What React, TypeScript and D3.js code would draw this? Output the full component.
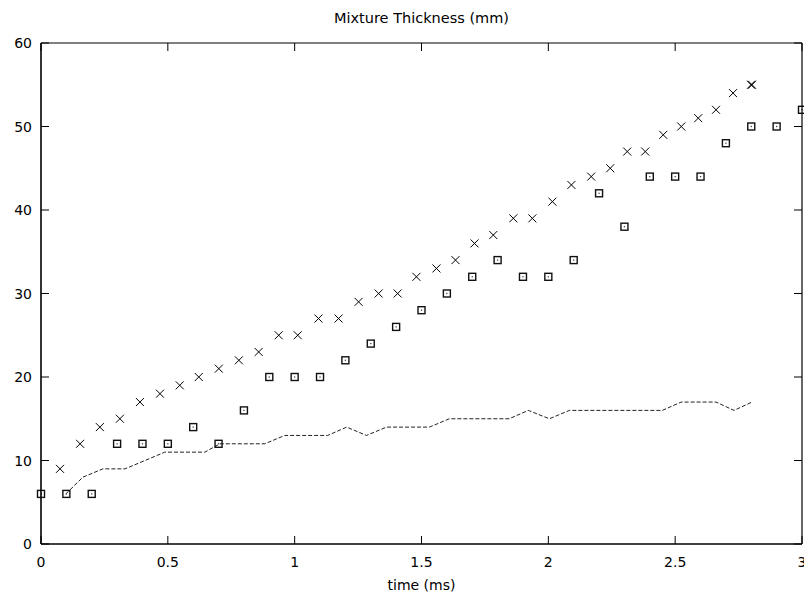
import React from "react";
import * as d3 from "d3";

// ---- data ----
const crossTimes = [0.075, 0.154, 0.232, 0.311, 0.390, 0.469, 0.547, 0.622, 0.701, 0.780, 0.858, 0.937, 1.012, 1.094, 1.173, 1.252, 1.331, 1.406, 1.480, 1.559, 1.634, 1.709, 1.783, 1.862, 1.937, 2.016, 2.091, 2.169, 2.244, 2.311, 2.382, 2.453, 2.524, 2.591, 2.661, 2.728, 2.799, 2.803];
const crossValues = [9, 12, 14, 15, 17, 18, 19, 20, 21, 22, 23, 25, 25, 27, 27, 29, 30, 30, 32, 33, 34, 36, 37, 39, 39, 41, 43, 44, 45, 47, 47, 49, 50, 51, 52, 54, 55, 55];

const squareTimes = [0, 0.1, 0.2, 0.3, 0.4, 0.5, 0.6, 0.7, 0.8, 0.9, 1.0, 1.1, 1.2, 1.3, 1.4, 1.5, 1.6, 1.7, 1.8, 1.9, 2.0, 2.1, 2.2, 2.3, 2.4, 2.5, 2.6, 2.7, 2.8, 2.9, 3.0];
const squareValues = [6, 6, 6, 12, 12, 12, 14, 12, 16, 20, 20, 20, 22, 24, 26, 28, 30, 32, 34, 32, 32, 34, 42, 38, 44, 44, 44, 48, 50, 50, 52];

const lineTimes = [0.098, 0.165, 0.244, 0.331, 0.410, 0.488, 0.646, 0.705, 0.882, 0.961, 1.130, 1.205, 1.283, 1.362, 1.531, 1.610, 1.846, 1.921, 2.004, 2.083, 2.449, 2.524, 2.661, 2.732, 2.803];
const lineValues = [6, 8, 9, 9, 10, 11, 11, 12, 12, 13, 13, 14, 13, 14, 14, 15, 15, 16, 15, 16, 16, 17, 17, 16, 17];

const xTicks = [0, 0.5, 1, 1.5, 2, 2.5, 3];
const xTickLabels = ["0", "0.5", "1", "1.5", "2", "2.5", "3"];
const yTicks = [0, 10, 20, 30, 40, 50, 60];
const yTickLabels = ["0", "10", "20", "30", "40", "50", "60"];

const title = "Mixture Thickness (mm)";
const xTitle = "time (ms)";

export default function App() {
  const W = 804, H = 597;
  const left = 41, right = 802, top = 43, bottom = 544;
  const x = d3.scaleLinear().domain([0, 3]).range([left, right]);
  const y = d3.scaleLinear().domain([0, 60]).range([bottom, top]);
  const font = "'DejaVu Sans', sans-serif";
  const tickLen = 8;

  const linePts: [number, number][] = lineTimes.map((t, i) => [t, lineValues[i]]);
  const lineGen = d3.line<[number, number]>().x(d => x(d[0])).y(d => y(d[1]));

  return (
    <svg width={W} height={H} style={{ position: "absolute", left: 0, top: 0, background: "#fff" }} xmlns="http://www.w3.org/2000/svg">
      <rect x={0} y={0} width={W} height={H} fill="#fff" />
      <text x={(left + right) / 2} y={23} textAnchor="middle" fontFamily={font} fontSize={14.5} fill="#000">{title}</text>
      {/* ticks */}
      {xTicks.map((t, i) => (
        <g key={"xt" + i}>
          <line x1={x(t)} x2={x(t)} y1={bottom} y2={bottom - tickLen} stroke="#000" strokeWidth={1} />
          <line x1={x(t)} x2={x(t)} y1={top} y2={top + tickLen} stroke="#000" strokeWidth={1} />
          <text x={x(t)} y={567} textAnchor="middle" fontFamily={font} fontSize={14} fill="#000">{xTickLabels[i]}</text>
        </g>
      ))}
      {yTicks.map((t, i) => (
        <g key={"yt" + i}>
          <line x1={left} x2={left + tickLen} y1={y(t)} y2={y(t)} stroke="#000" strokeWidth={1} />
          <line x1={right} x2={right - tickLen} y1={y(t)} y2={y(t)} stroke="#000" strokeWidth={1} />
          <text x={32} y={y(t)} dy="0.36em" textAnchor="end" fontFamily={font} fontSize={14} fill="#000">{yTickLabels[i]}</text>
        </g>
      ))}
      <text x={(left + right) / 2} y={590} textAnchor="middle" fontFamily={font} fontSize={14} fill="#000">{xTitle}</text>
      {/* dashed line */}
      <path d={lineGen(linePts) || ""} fill="none" stroke="#222" strokeWidth={1} strokeDasharray="4,2" />
      {/* squares */}
      {squareTimes.map((t, i) => {
        const cx = x(t), cy = y(squareValues[i]);
        return (
          <g key={"sq" + i}>
            <rect x={cx - 3.5} y={cy - 3.5} width={7} height={7} fill="none" stroke="#111" strokeWidth={1.4} />
            <rect x={cx - 0.6} y={cy - 0.6} width={1.2} height={1.2} fill="#333" />
          </g>
        );
      })}
      {/* crosses */}
      {crossTimes.map((t, i) => {
        const cx = x(t), cy = y(crossValues[i]);
        const s = 4;
        return (
          <path key={"cr" + i} d={`M${cx - s},${cy - s}L${cx + s},${cy + s}M${cx - s},${cy + s}L${cx + s},${cy - s}`} stroke="#000" strokeWidth={1} fill="none" />
        );
      })}
      {/* frame */}
      <line x1={left} x2={right} y1={top} y2={top} stroke="#000" strokeWidth={1.2} />
      <line x1={right} x2={right} y1={top} y2={bottom} stroke="#000" strokeWidth={1.2} />
      <line x1={left} x2={left} y1={top} y2={bottom} stroke="#000" strokeWidth={1.6} />
      <line x1={left} x2={right} y1={bottom} y2={bottom} stroke="#000" strokeWidth={1.6} />
    </svg>
  );
}
